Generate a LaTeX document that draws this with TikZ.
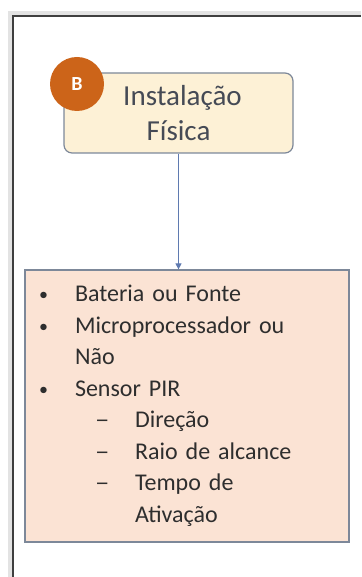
\documentclass[tikz,border=0pt]{standalone}
\usepackage{fontspec}
\setmainfont{Carlito}
\usepackage{xcolor}
\usetikzlibrary{arrows.meta,calc}
\definecolor{moldura}{HTML}{3F3F3F}
\definecolor{sombra}{HTML}{E3E3E3}
\definecolor{creme}{HTML}{FDF1D6}
\definecolor{pessego}{HTML}{FBE3D4}
\definecolor{borda}{HTML}{7D8899}
\definecolor{seta}{HTML}{5F7AB0}
\definecolor{laranja}{HTML}{CC6419}
\definecolor{titulo}{HTML}{454A55}
\definecolor{texto}{HTML}{2E2E2E}
\newcommand{\bul}{\makebox[38pt][l]{\hspace{2pt}\raisebox{1pt}{\scalebox{0.75}{\textbullet}}}}
\newcommand{\trac}{\hspace*{58pt}\makebox[40pt][l]{\scalebox{1.2}[1]{–}}}
\newcommand{\recuo}{\hspace*{98pt}}

\begin{document}
\begin{tikzpicture}[x=1pt,y=1pt,
    caixa/.style={draw=borda,line width=1.2pt,rounded corners=8pt,fill=creme,
      minimum width=229pt,minimum height=80pt,text=titulo,align=center,
      font=\fontsize{29}{35}\selectfont},
    lista/.style={draw=borda,line width=1.2pt,fill=pessego,minimum width=324pt,
      minimum height=272pt,text width=300pt,inner xsep=12pt,align=left,text=texto,
      font=\fontsize{24}{31.5}\selectfont},
    marca/.style={circle,fill=laranja,minimum size=54pt,inner sep=0pt,text=white,
      font=\fontsize{20}{20}\selectfont\bfseries},
    liga/.style={draw=seta,line width=1pt,-{Triangle[length=6pt,width=6pt]}}]
  \useasboundingbox (0,0) rectangle (361,577);
  % moldura
  \draw[sombra,line width=5pt] (10.5,0) -- (10.5,563.5) -- (361,563.5);
  \draw[moldura,line width=1.6pt] (13,0) -- (13,561) -- (361,561);
  % caixas
  \node[caixa] (inst) at (178.5,464) {\hspace*{8pt}Instalação\\Física};
  \node[marca] (b) at (77,493) {B};
  \node[lista] (det) at (187,171) {%
    \bul Bateria ou Fonte\\
    \bul Microprocessador ou\\
    \hspace*{38pt}Não\\
    \bul Sensor PIR\\
    \trac Direção\\
    \trac Raio de alcance\\
    \trac Tempo de\\
    \recuo Ativação};
  \draw[liga] (inst.south) -- (inst.south |- det.north);
\end{tikzpicture}
\end{document}
